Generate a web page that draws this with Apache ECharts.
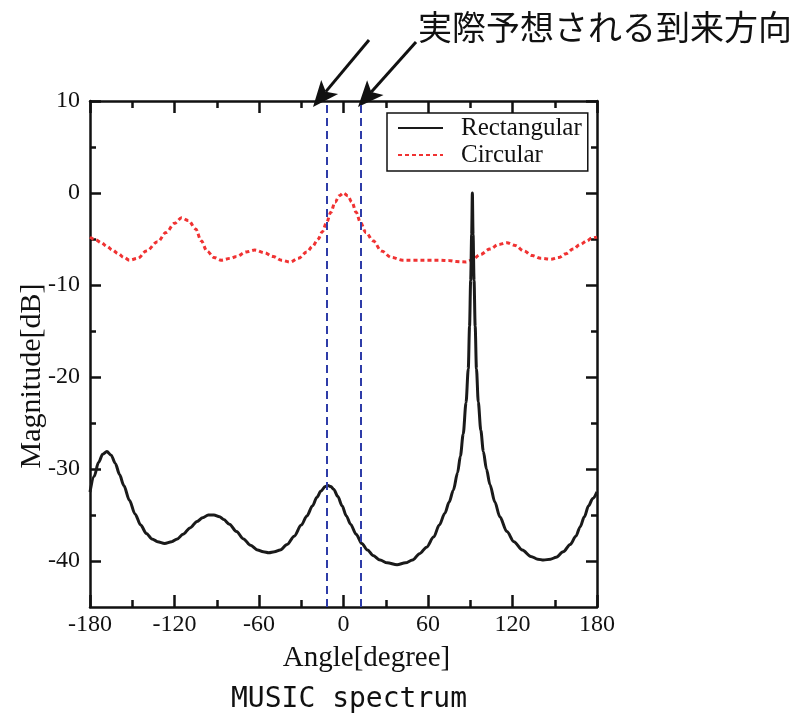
<!DOCTYPE html>
<html>
<head>
<meta charset="utf-8">
<script src="https://cdn.jsdelivr.net/npm/echarts@6/dist/echarts.min.js"></script>
<style>
  html, body { margin: 0; padding: 0; background: #ffffff; }
  #chart { width: 803px; height: 724px; }
</style>
</head>
<body>
<div id="chart"></div>
<script>
// MUSIC pseudo-spectrum of two array geometries (angle in degrees, magnitude in dB)
const rectAngles = [-180, -177, -174, -171, -168, -165, -162, -159, -156, -152, -148, -144, -140, -136, -132, -127, -122, -118, -114, -109, -104, -100, -96, -92, -88, -85, -81, -76, -71, -66, -61, -57, -53, -49, -45, -40, -35, -30, -26, -22, -19, -16, -13, -11, -9, -7, -4, -1, 2, 5, 9, 13, 17, 21, 26, 31, 38, 44, 49, 54, 59, 64, 68, 72, 75, 78, 81, 83, 85, 87, 88.6, 89.5, 90.3, 91.0, 91.5, 92.0, 92.7, 93.5, 94.4, 95.7, 97.5, 99.3, 101.5, 104, 107.5, 111, 116, 121, 127, 133, 138, 142, 147, 151, 156, 161, 165, 168, 171, 174, 177, 180];
const rectDb = [-32.5, -30.8, -29.3, -28.4, -28.1, -28.5, -29.4, -30.6, -31.8, -33.4, -34.9, -36.1, -37.0, -37.6, -37.9, -38.1, -37.9, -37.6, -37.1, -36.4, -35.7, -35.3, -35.0, -35.0, -35.2, -35.5, -36.0, -36.8, -37.6, -38.3, -38.8, -39.0, -39.1, -39.0, -38.8, -38.2, -37.3, -36.1, -35.1, -34.0, -33.1, -32.4, -31.9, -31.8, -31.9, -32.2, -33.0, -34.0, -35.1, -36.0, -37.1, -38.1, -38.8, -39.4, -39.9, -40.2, -40.4, -40.2, -39.9, -39.2, -38.5, -37.4, -36.1, -34.8, -33.6, -32.3, -30.4, -28.6, -26.2, -22.8, -19.1, -14.5, -9.5, -4.5, 0.0, -4.5, -9.5, -14.5, -19.1, -22.7, -25.8, -28.1, -30.0, -31.7, -33.6, -35.2, -36.8, -37.9, -38.8, -39.5, -39.8, -39.9, -39.8, -39.6, -39.0, -38.2, -37.3, -36.3, -35.2, -34.0, -33.2, -32.5];

const circAngles = [-180, -176, -172, -168, -164, -160, -156, -152, -146, -140, -132, -126, -120, -115, -110, -105, -101, -97, -92, -87, -80, -76, -69, -63, -56, -50, -44, -38, -32, -26, -22, -18, -15, -12, -9, -6, -3, 0, 3, 6, 9, 12, 16, 21, 27, 34, 42, 50, 60, 68, 75, 80, 87, 91, 97, 104, 110, 116, 122, 128, 134, 140, 147, 153, 158, 163, 168, 173, 176, 180];
const circDb = [-4.8, -5.1, -5.4, -5.8, -6.2, -6.6, -7.0, -7.3, -7.1, -6.3, -5.3, -4.3, -3.3, -2.7, -3.0, -3.9, -5.2, -6.3, -7.0, -7.3, -7.1, -6.9, -6.4, -6.2, -6.5, -6.9, -7.3, -7.5, -7.1, -6.4, -5.8, -5.0, -4.2, -3.2, -2.1, -1.0, -0.3, 0.0, -0.3, -1.0, -2.1, -3.2, -4.3, -5.2, -6.3, -7.0, -7.3, -7.3, -7.3, -7.3, -7.35, -7.45, -7.5, -7.3, -6.7, -6.1, -5.6, -5.4, -5.7, -6.3, -6.8, -7.1, -7.2, -7.0, -6.6, -6.1, -5.6, -5.2, -4.9, -4.8];

// expected directions of arrival
const doaAngles = [-12, 12];

// axis ticks
const yMajorTicks = [-40, -30, -20, -10, 0, 10];
const yMinorTicks = [-35, -25, -15, -5, 5];

const seriesNames = ['Rectangular', 'Circular'];
const annotationText = '実際予想される到来方向';
const chartTitle = 'MUSIC spectrum';

const serif = "'Liberation Serif', 'DejaVu Serif', serif";
const ink = '#111111';
const pairs = (xs, ys) => xs.map((x, i) => [x, ys[i]]);

// filled arrow from (x0, y0) to tip (x1, y1)
function arrow(x0, y0, x1, y1) {
  const dx = x1 - x0, dy = y1 - y0;
  const len = Math.hypot(dx, dy);
  const ux = dx / len, uy = dy / len;
  const px = -uy, py = ux;
  const head = 26, half = 11, notch = 6;
  const bx = x1 - ux * head, by = y1 - uy * head;
  const nx = x1 - ux * (head - notch), ny = y1 - uy * (head - notch);
  return [
    { type: 'line', shape: { x1: x0, y1: y0, x2: nx, y2: ny },
      style: { stroke: ink, lineWidth: 3 } },
    { type: 'polygon',
      shape: { points: [[x1, y1], [bx + px * half, by + py * half], [nx, ny], [bx - px * half, by - py * half]] },
      style: { fill: ink } }
  ];
}

const axisLine = { show: true, onZero: false, lineStyle: { color: ink, width: 2.5 } };
const noLine = { show: false, onZero: false };
const tickLine = { color: ink, width: 2.5 };
const tickLabelStyle = { color: ink, fontFamily: serif, fontSize: 24 };

const chart = echarts.init(document.getElementById('chart'), null, { renderer: 'canvas' });

const option = {
  animation: false,
  backgroundColor: '#ffffff',
  grid: { left: 90, top: 101, width: 507, height: 506, containLabel: false },
  legend: {
    data: seriesNames,
    orient: 'vertical',
    left: 387, top: 113,
    padding: [2, 6, 3, 10],
    itemGap: 1,
    itemWidth: 45, itemHeight: 14,
    backgroundColor: '#ffffff',
    borderColor: ink, borderWidth: 1.5, borderRadius: 0,
    itemStyle: { opacity: 0 },
    textStyle: { color: ink, fontFamily: serif, fontSize: 25, lineHeight: 26, padding: [0, 0, 0, 13] }
  },
  xAxis: [
    {
      type: 'value', position: 'bottom', min: -180, max: 180, interval: 60,
      name: 'Angle[degree]', nameLocation: 'middle', nameGap: 37,
      nameMoveOverlap: false,
      // name sits a little right of the axis centre
      nameTextStyle: { color: ink, fontFamily: serif, fontSize: 29, padding: [0, 0, 0, 46] },
      axisLine: axisLine,
      axisTick: { show: true, inside: true, length: 12, lineStyle: tickLine },
      minorTick: { show: true, splitNumber: 2, length: 7, lineStyle: tickLine },
      axisLabel: Object.assign({ margin: 6, showMinLabel: true, showMaxLabel: true }, tickLabelStyle),
      splitLine: { show: false }
    },
    {
      type: 'value', position: 'top', min: -180, max: 180, interval: 60,
      axisLine: axisLine,
      axisTick: { show: true, inside: true, length: 12, lineStyle: tickLine },
      minorTick: { show: true, splitNumber: 2, length: 7, lineStyle: tickLine },
      axisLabel: { show: false },
      splitLine: { show: false }
    }
  ],
  yAxis: [
    {
      type: 'value', position: 'left', min: -45, max: 10,
      name: 'Magnitude[dB]', nameLocation: 'middle', nameGap: 43, nameRotate: 90,
      nameMoveOverlap: false,
      // name sits a little below the axis centre
      nameTextStyle: { color: ink, fontFamily: serif, fontSize: 30, padding: [0, 44, 0, 0] },
      axisLine: axisLine,
      axisTick: { show: true, inside: true, length: 11, customValues: yMajorTicks, lineStyle: tickLine },
      axisLabel: Object.assign({ margin: 10, customValues: yMajorTicks }, tickLabelStyle),
      splitLine: { show: false }
    },
    {
      type: 'value', position: 'left', min: -45, max: 10,
      axisLine: noLine,
      axisTick: { show: true, inside: true, length: 6, customValues: yMinorTicks, lineStyle: tickLine },
      axisLabel: { show: false },
      splitLine: { show: false }
    },
    {
      type: 'value', position: 'right', min: -45, max: 10,
      axisLine: axisLine,
      axisTick: { show: true, inside: true, length: 11, customValues: yMajorTicks, lineStyle: tickLine },
      axisLabel: { show: false },
      splitLine: { show: false }
    },
    {
      type: 'value', position: 'right', min: -45, max: 10,
      axisLine: noLine,
      axisTick: { show: true, inside: true, length: 6, customValues: yMinorTicks, lineStyle: tickLine },
      axisLabel: { show: false },
      splitLine: { show: false }
    }
  ],
  series: [
    {
      name: seriesNames[0], type: 'line', xAxisIndex: 0, yAxisIndex: 0,
      data: pairs(rectAngles, rectDb),
      showSymbol: false, symbol: 'none', smooth: 0.3, smoothMonotone: 'x',
      lineStyle: { color: '#1a1a1a', width: 3, type: 'solid' },
      itemStyle: { color: '#1a1a1a' },
      z: 3
    },
    {
      name: seriesNames[1], type: 'line', xAxisIndex: 0, yAxisIndex: 0,
      data: pairs(circAngles, circDb),
      showSymbol: false, symbol: 'none', smooth: 0.35, smoothMonotone: 'x',
      lineStyle: { color: '#f03232', width: 3, type: [4, 3] },
      itemStyle: { color: '#f03232' },
      z: 2,
      markLine: {
        silent: true, symbol: 'none', label: { show: false },
        lineStyle: { color: '#2e3ca8', width: 2, type: [8, 5] },
        data: doaAngles.map(a => ({ xAxis: a }))
      }
    }
  ],
  graphic: [
    {
      type: 'text', x: 418, y: 27,
      style: { text: annotationText, fill: ink, font: "34px 'Noto Sans CJK JP'", textAlign: 'left', textVerticalAlign: 'middle' }
    },
    {
      type: 'text', x: 349, y: 700,
      style: { text: chartTitle, fill: ink, font: "28px 'DejaVu Sans Mono'", textAlign: 'center', textVerticalAlign: 'middle' }
    },
    ...arrow(369, 40, 313, 107),
    ...arrow(416, 42, 358, 107)
  ]
};

chart.setOption(option);
</script>
</body>
</html>
